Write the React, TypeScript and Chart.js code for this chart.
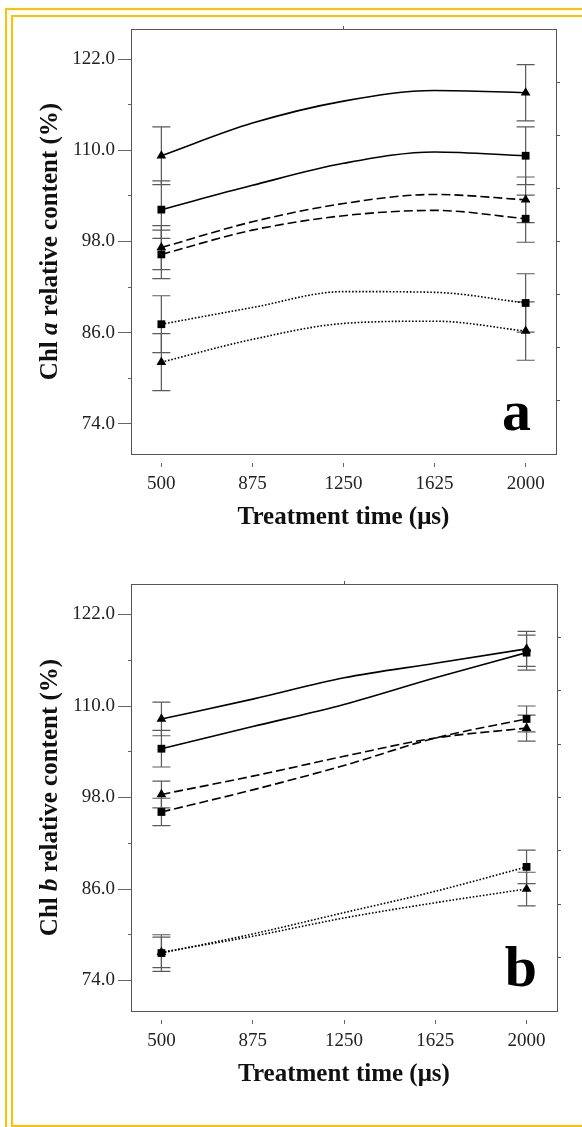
import React, { useEffect, useRef } from 'react';
import { Chart, registerables } from 'chart.js';

Chart.register(...registerables);

// ---------------- data ----------------
const treatmentTimes = [500, 875, 1250, 1625, 2000];
const errorTimes = [500, 2000];
const xTickValues = [500, 875, 1250, 1625, 2000];
const yMajorTicks = [74, 86, 98, 110, 122];
const yMinorTicks = [80, 92, 104, 116];
const rightTicks = [77, 84, 91, 98, 105, 112, 119];
const topTicks = [1250];

// Panel a: Chl a relative content (%)
const chlA_solidTri = [109.3, 113.6, 116.5, 117.9, 117.6];
const chlA_solidSq = [102.2, 105.4, 108.3, 109.8, 109.3];
const chlA_dashTri = [97.2, 100.6, 103.0, 104.2, 103.5];
const chlA_dashSq = [96.3, 99.5, 101.4, 102.1, 101.0];
const chlA_dotSq = [87.1, 89.3, 91.4, 91.3, 89.9];
const chlA_dotTri = [82.1, 85.1, 87.2, 87.5, 86.2];
const chlA_solidTriErr = [3.8, 3.7];
const chlA_solidSqErr = [3.8, 3.8];
const chlA_dashTriErr = [2.9, 3.0];
const chlA_dashSqErr = [3.2, 3.1];
const chlA_dotSqErr = [3.75, 3.85];
const chlA_dotTriErr = [3.75, 3.85];

// Panel b: Chl b relative content (%)
const chlB_solidTri = [108.3, 110.9, 113.7, 115.6, 117.5];
const chlB_solidSq = [104.4, 107.3, 110.2, 113.7, 117.0];
const chlB_dashTri = [98.4, 100.8, 103.4, 105.8, 107.1];
const chlB_dashSq = [96.1, 99.0, 102.2, 105.8, 108.3];
const chlB_dotSq = [77.6, 80.1, 82.9, 85.7, 88.9];
const chlB_dotTri = [77.7, 79.8, 82.2, 84.2, 86.0];
const chlB_solidTriErr = [2.2, 2.3];
const chlB_solidSqErr = [2.4, 2.3];
const chlB_dashTriErr = [1.75, 1.7];
const chlB_dashSqErr = [1.8, 1.7];
const chlB_dotSqErr = [2.4, 2.2];
const chlB_dotTriErr = [2.0, 2.2];

// ---------------- styles ----------------
const SERIF = '"Liberation Serif", "Times New Roman", serif';
const SOLID: number[] = [];
const DASH = [9, 4];
const DOT = [1.6, 1.8];

type Series = { label: string; values: number[]; err: number[]; dash: number[]; point: string };

const panelASeries: Series[] = [
  { label: 'solid-tri', values: chlA_solidTri, err: chlA_solidTriErr, dash: SOLID, point: 'triangle' },
  { label: 'solid-sq', values: chlA_solidSq, err: chlA_solidSqErr, dash: SOLID, point: 'rect' },
  { label: 'dash-tri', values: chlA_dashTri, err: chlA_dashTriErr, dash: DASH, point: 'triangle' },
  { label: 'dash-sq', values: chlA_dashSq, err: chlA_dashSqErr, dash: DASH, point: 'rect' },
  { label: 'dot-sq', values: chlA_dotSq, err: chlA_dotSqErr, dash: DOT, point: 'rect' },
  { label: 'dot-tri', values: chlA_dotTri, err: chlA_dotTriErr, dash: DOT, point: 'triangle' },
];

const panelBSeries: Series[] = [
  { label: 'solid-tri', values: chlB_solidTri, err: chlB_solidTriErr, dash: SOLID, point: 'triangle' },
  { label: 'solid-sq', values: chlB_solidSq, err: chlB_solidSqErr, dash: SOLID, point: 'rect' },
  { label: 'dash-tri', values: chlB_dashTri, err: chlB_dashTriErr, dash: DASH, point: 'triangle' },
  { label: 'dash-sq', values: chlB_dashSq, err: chlB_dashSqErr, dash: DASH, point: 'rect' },
  { label: 'dot-sq', values: chlB_dotSq, err: chlB_dotSqErr, dash: DOT, point: 'rect' },
  { label: 'dot-tri', values: chlB_dotTri, err: chlB_dotTriErr, dash: DOT, point: 'triangle' },
];

// ---------------- plugins ----------------
const errorBarPlugin = {
  id: 'errorBars',
  beforeDatasetsDraw(chart: any) {
    const { ctx, scales } = chart;
    const x = scales.x;
    const y = scales.y;
    ctx.save();
    ctx.strokeStyle = '#5a5a5a';
    ctx.lineWidth = 1.2;
    ctx.setLineDash([]);
    chart.data.datasets.forEach((ds: any) => {
      (ds.errorBars || []).forEach((eb: any) => {
        const px = x.getPixelForValue(eb.x);
        const top = y.getPixelForValue(eb.y + eb.err);
        const bot = y.getPixelForValue(eb.y - eb.err);
        ctx.beginPath();
        ctx.moveTo(px, top);
        ctx.lineTo(px, bot);
        ctx.moveTo(px - 9, top);
        ctx.lineTo(px + 9, top);
        ctx.moveTo(px - 9, bot);
        ctx.lineTo(px + 9, bot);
        ctx.stroke();
      });
    });
    ctx.restore();
  },
};

const yTitlePlugin = {
  id: 'yTitle',
  afterDraw(chart: any, _args: any, opts: any) {
    const { ctx, chartArea } = chart;
    const parts: { text: string; italic: boolean }[] = opts.parts;
    ctx.save();
    ctx.translate(opts.x, (chartArea.top + chartArea.bottom) / 2);
    ctx.rotate(-Math.PI / 2);
    ctx.fillStyle = '#111';
    ctx.textBaseline = 'middle';
    ctx.textAlign = 'left';
    const fonts = parts.map((p) => `${p.italic ? 'italic ' : ''}bold ${opts.size}px ${SERIF}`);
    const widths = parts.map((p, i) => {
      ctx.font = fonts[i];
      return ctx.measureText(p.text).width;
    });
    const total = widths.reduce((a, b) => a + b, 0);
    let cx = -total / 2;
    parts.forEach((p, i) => {
      ctx.font = fonts[i];
      ctx.fillText(p.text, cx, 0);
      cx += widths[i];
    });
    ctx.restore();
  },
};

const letterPlugin = {
  id: 'panelLetter',
  afterDraw(chart: any, _args: any, opts: any) {
    const { ctx, chartArea } = chart;
    ctx.save();
    ctx.font = `bold ${opts.size}px ${SERIF}`;
    ctx.fillStyle = '#000';
    ctx.textAlign = 'right';
    ctx.textBaseline = 'alphabetic';
    ctx.fillText(opts.text, chartArea.right - opts.dx, chartArea.bottom - opts.dy);
    ctx.restore();
  },
};

// ---------------- config ----------------
type PanelCfg = {
  top: number;
  height: number;
  topH: number;
  bottomH: number;
  rightW: number;
  titlePad: number;
  letter: string;
  letterDx: number;
  letterDy: number;
  series: Series[];
};

const panelA: PanelCfg = {
  top: 0, height: 560, topH: 29, bottomH: 106, rightW: 26, titlePad: 27,
  letter: 'a', letterDx: 25, letterDy: 24, series: panelASeries,
};
const panelB: PanelCfg = {
  top: 560, height: 567, topH: 24, bottomH: 116, rightW: 25, titlePad: 37,
  letter: 'b', letterDx: 20, letterDy: 25, series: panelBSeries,
};

function buildConfig(p: PanelCfg): any {
  const last = treatmentTimes.length - 1;
  const datasets = p.series.map((s) => ({
    label: s.label,
    data: treatmentTimes.map((t, i) => ({ x: t, y: s.values[i] })),
    borderColor: '#000',
    borderWidth: 1.6,
    borderDash: s.dash,
    cubicInterpolationMode: 'monotone',
    fill: false,
    pointStyle: s.point,
    pointRadius: (c: any) => (c.dataIndex === 0 || c.dataIndex === last ? (s.point === 'rect' ? 5.5 : 5.6) : 0),
    pointBackgroundColor: '#000',
    pointBorderColor: '#000',
    pointBorderWidth: 0,
    errorBars: errorTimes.map((t, i) => ({ x: t, y: s.values[treatmentTimes.indexOf(t)], err: s.err[i] })),
  }));

  const axisColor = '#555';
  const tickColor = '#666';

  return {
    type: 'line',
    data: { datasets },
    options: {
      animation: false,
      responsive: false,
      layout: { padding: 0 },
      plugins: {
        legend: { display: false },
        tooltip: { enabled: false },
        yTitle: {
          x: 51,
          size: 25,
          parts: [
            { text: 'Chl ', italic: false },
            { text: p.letter, italic: true },
            { text: ' relative content (%)', italic: false },
          ],
        },
        panelLetter: { text: p.letter, size: 58, dx: p.letterDx, dy: p.letterDy },
      },
      scales: {
        x: {
          type: 'linear',
          position: 'bottom',
          min: 375,
          max: 2125,
          afterBuildTicks: (s: any) => { s.ticks = xTickValues.map((v) => ({ value: v })); },
          afterFit: (s: any) => { s.height = p.bottomH; },
          grid: { drawOnChartArea: false, tickLength: 13, tickColor, tickWidth: 1, tickBorderDash: [0, 8, 5, 100] },
          border: { color: axisColor, width: 1 },
          ticks: { font: { family: SERIF, size: 19 }, color: '#222', padding: 6, maxRotation: 0, autoSkip: false, callback: (v: any) => String(v) },
          title: { display: true, text: 'Treatment time (μs)', font: { family: SERIF, size: 25, weight: 'bold' }, color: '#111', padding: { top: 0, bottom: p.titlePad } },
        },
        x2: {
          type: 'linear',
          position: 'top',
          min: 375,
          max: 2125,
          afterBuildTicks: (s: any) => { s.ticks = topTicks.map((v) => ({ value: v })); },
          afterFit: (s: any) => { s.height = p.topH; },
          grid: { drawOnChartArea: false, tickLength: 3, tickColor: axisColor },
          border: { color: axisColor, width: 1 },
          ticks: { display: false },
        },
        y: {
          type: 'linear',
          position: 'left',
          weight: 1,
          min: 70,
          max: 126,
          afterBuildTicks: (s: any) => { s.ticks = yMajorTicks.map((v) => ({ value: v })); },
          afterFit: (s: any) => { s.width = 131; },
          grid: { drawOnChartArea: false, tickLength: 13, tickColor, tickWidth: 1 },
          border: { color: axisColor, width: 1 },
          ticks: { font: { family: SERIF, size: 19 }, color: '#222', padding: 3, callback: (v: any) => Number(v).toFixed(1) },
        },
        ym: {
          type: 'linear',
          position: 'left',
          weight: 0,
          min: 70,
          max: 126,
          afterBuildTicks: (s: any) => { s.ticks = yMinorTicks.map((v) => ({ value: v })); },
          afterFit: (s: any) => { s.width = 0; },
          grid: { drawOnChartArea: false, tickLength: 3, tickColor, tickWidth: 1 },
          border: { display: false },
          ticks: { display: false },
        },
        y2: {
          type: 'linear',
          position: 'right',
          min: 70,
          max: 126,
          afterBuildTicks: (s: any) => { s.ticks = rightTicks.map((v) => ({ value: v })); },
          afterFit: (s: any) => { s.width = p.rightW; },
          grid: { drawOnChartArea: false, tickLength: 4, tickColor: axisColor, tickWidth: 1 },
          border: { color: axisColor, width: 1 },
          ticks: { display: false },
        },
      },
    },
    plugins: [errorBarPlugin, yTitlePlugin, letterPlugin],
  };
}

function Panel({ cfg }: { cfg: PanelCfg }) {
  const ref = useRef<HTMLCanvasElement>(null);
  useEffect(() => {
    const chart = new Chart(ref.current as HTMLCanvasElement, buildConfig(cfg));
    return () => chart.destroy();
  }, [cfg]);
  return (
    <div style={{ position: 'absolute', left: 0, top: cfg.top, width: 582, height: cfg.height }}>
      <canvas ref={ref} width={582} height={cfg.height} style={{ display: 'block', width: 582, height: cfg.height }} />
    </div>
  );
}

export default function App() {
  const gold = '#FFC000';
  return (
    <div style={{ position: 'absolute', left: 0, top: 0, width: 582, height: 1127, overflow: 'hidden', background: '#fff' }}>
      <div
        style={{
          position: 'absolute', left: 5, top: 8, width: 700, height: 1200, boxSizing: 'border-box',
          borderLeft: `2px solid ${gold}`, borderTop: `2px solid ${gold}`,
        }}
      />
      <div
        style={{
          position: 'absolute', left: 11, top: 14.5, width: 700, height: 1112, boxSizing: 'border-box',
          borderLeft: `2px solid ${gold}`, borderTop: `2px solid ${gold}`, borderBottom: `2px solid ${gold}`,
        }}
      />
      <Panel cfg={panelA} />
      <Panel cfg={panelB} />
    </div>
  );
}
